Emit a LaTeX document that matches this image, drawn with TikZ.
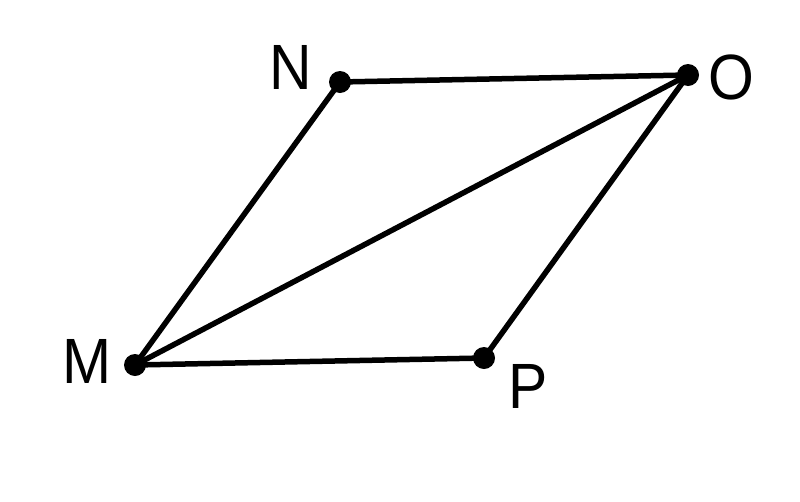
\documentclass[tikz,border=0pt]{standalone}
\usepackage{fontspec}
\setmainfont{Liberation Sans}
\begin{document}
\begin{tikzpicture}[x=1pt,y=-1pt,
  edge/.style={line width=5.5pt,line cap=round,line join=round},
  pt/.style={circle,fill=black,inner sep=0pt,minimum size=22pt},
  lbl/.style={font=\fontsize{64}{68}\selectfont,inner sep=0pt,xscale=0.92}]
\useasboundingbox[fill=white] (0,0) rectangle (800,501);
\node[pt] (N) at (340,82) {};
\node[pt] (O) at (688,75) {};
\node[pt] (M) at (135,365) {};
\node[pt] (P) at (484,358) {};
\draw[edge] (N.center) -- (O.center) -- (P.center) -- (M.center) -- cycle;
\draw[edge] (M.center) -- (O.center);
\node[lbl] (lN) at (291,67) {N};
\node[lbl] (lO) at (731,77) {O};
\node[lbl] (lM) at (87,361) {M};
\node[lbl] (lP) at (528,386) {P};
\end{tikzpicture}
\end{document}
